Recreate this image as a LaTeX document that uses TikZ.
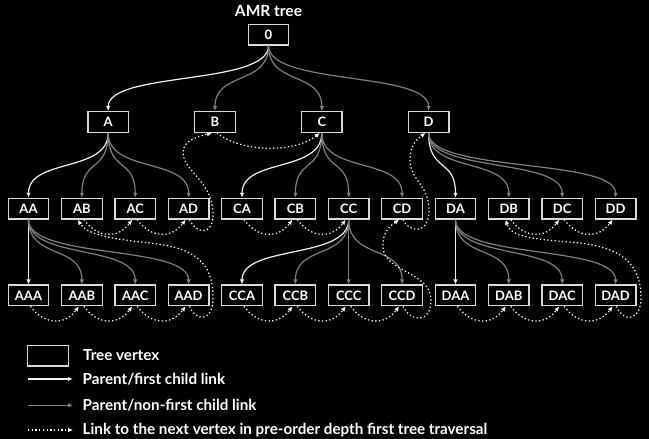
\documentclass[tikz,border=0pt]{standalone}
\usepackage{fontspec}
\setmainfont{Lato}
\usetikzlibrary{arrows.meta,calc}

\definecolor{firstlink}{HTML}{F2F2F2}
\definecolor{otherlink}{HTML}{7F7F7F}
\definecolor{boxline}{HTML}{D9D9D9}

\tikzset{
  vertex/.style={draw=boxline, line width=1.3pt, fill=black, text=white,
    minimum width=40.6pt, minimum height=20.6pt, inner sep=0pt,
    font=\fontsize{13}{13}\selectfont\bfseries},
  tip/.style={-{Latex[length=5pt,width=4.5pt]}},
  firstedge/.style={tip, draw=firstlink, line width=1.2pt},
  otheredge/.style={tip, draw=otherlink, line width=1.2pt},
  nextedge/.style={tip, draw=white, line width=1.2pt, dash pattern=on 1.3pt off 2.4pt},
  curved/.style={to path={.. controls ($(\tikztostart)+(0,#1)$) and ($(\tikztotarget)+(0,-#1)$) .. (\tikztotarget)}},
  curved/.default=40,
  sib/.style={to path={.. controls +(14,19) and +(-14,19) .. (\tikztotarget)}},
  legendtext/.style={anchor=west, text=white, inner sep=0pt,
    font=\fontsize{15.2}{15.2}\selectfont\bfseries},
}

\begin{document}
\begin{tikzpicture}[x=1pt, y=-1pt]
  \fill[black] (0,0) rectangle (649,439);
  \useasboundingbox (0,0) rectangle (649,439);

  % title
  \node[text=white, font=\fontsize{15.5}{15.5}\selectfont\bfseries] (title) at (268.5,10.5) {AMR tree};

  % root and first level
  \node[vertex] (R) at (268.5,34.8) {0};
  \node[vertex] (A) at (108.2,122) {A};
  \node[vertex] (B) at (215.0,122) {B};
  \node[vertex] (C) at (321.8,122) {C};
  \node[vertex] (D) at (428.6,122) {D};

  % second level
  \node[vertex] (AA) at (28.5,208.7)  {AA};
  \node[vertex] (AB) at (81.9,208.7)  {AB};
  \node[vertex] (AC) at (135.2,208.7) {AC};
  \node[vertex] (AD) at (188.6,208.7) {AD};
  \node[vertex] (CA) at (242.0,208.7) {CA};
  \node[vertex] (CB) at (295.4,208.7) {CB};
  \node[vertex] (CC) at (348.7,208.7) {CC};
  \node[vertex] (CD) at (402.1,208.7) {CD};
  \node[vertex] (DA) at (455.5,208.7) {DA};
  \node[vertex] (DB) at (508.8,208.7) {DB};
  \node[vertex] (DC) at (562.2,208.7) {DC};
  \node[vertex] (DD) at (615.6,208.7) {DD};

  % third level
  \node[vertex] (AAA) at (28.5,295.4)  {AAA};
  \node[vertex] (AAB) at (81.9,295.4)  {AAB};
  \node[vertex] (AAC) at (135.2,295.4) {AAC};
  \node[vertex] (AAD) at (188.6,295.4) {AAD};
  \node[vertex] (CCA) at (242.0,295.4) {CCA};
  \node[vertex] (CCB) at (295.4,295.4) {CCB};
  \node[vertex] (CCC) at (348.7,295.4) {CCC};
  \node[vertex] (CCD) at (402.1,295.4) {CCD};
  \node[vertex] (DAA) at (455.5,295.4) {DAA};
  \node[vertex] (DAB) at (508.8,295.4) {DAB};
  \node[vertex] (DAC) at (562.2,295.4) {DAC};
  \node[vertex] (DAD) at (615.6,295.4) {DAD};

  % parent / child links
  \draw[firstedge] (R.south) to[curved] (A.north);
  \foreach \c in {B,C,D} \draw[otheredge] (R.south) to[curved] (\c.north);
  \foreach \p in {A,C,D} {
    \draw[firstedge] (\p.south) to[curved] (\p A.north);
    \foreach \c in {B,C,D} \draw[otheredge] (\p.south) to[curved] (\p\c.north);
  }
  \foreach \p in {AA,CC,DA} {
    \draw[firstedge] (\p.south) to[curved] (\p A.north);
    \foreach \c in {B,C,D} \draw[otheredge] (\p.south) to[curved] (\p\c.north);
  }

  % pre-order traversal links between neighbouring siblings
  \foreach \s/\t in {AB/AC, AC/AD, CA/CB, CB/CC, DB/DC, DC/DD,
                     AAA/AAB, AAB/AAC, AAC/AAD, CCA/CCB, CCB/CCC, CCC/CCD,
                     DAA/DAB, DAB/DAC, DAC/DAD}
    \draw[nextedge] ([xshift=2pt]\s.south) to[sib] ([xshift=-3pt]\t.south);
  \draw[nextedge] ([xshift=2pt]B.south) .. controls +(25,20) and +(-25,20) .. ([xshift=-2pt]C.south);

  % traversal links climbing back up the tree
  \draw[nextedge] ([xshift=1pt]AD.south) .. controls (196,234) and (213,236) .. (213,215)
    .. controls (213,180) and (183,172) .. (183,152)
    .. controls (183,140) and (200,136) .. ([xshift=-3pt]B.south);
  \draw[nextedge] ([xshift=1pt]AAD.south) .. controls (196,322) and (213,322) .. (213,298)
    .. controls (213,262) and (195,248) .. (150,243)
    .. controls (110,239) and (86,234) .. ([xshift=-4pt]AB.south);
  \draw[nextedge] ([xshift=1pt]CCD.south) .. controls (410,322) and (431,324) .. (431,300)
    .. controls (431,272) and (385,272) .. (383,248)
    .. controls (382,232) and (390,226) .. ([xshift=-3pt]CD.south);
  \draw[nextedge] ([xshift=1pt]CD.south) .. controls (408,232) and (429,236) .. (429,210)
    .. controls (429,185) and (410,180) .. (410,160)
    .. controls (410,145) and (418,138) .. ([xshift=-3pt]D.south);
  \draw[nextedge] ([xshift=1pt]DAD.south) .. controls (622,322) and (641,322) .. (641,298)
    .. controls (641,262) and (620,246) .. (570,242)
    .. controls (530,239) and (510,236) .. ([xshift=-3pt]DB.south);

  % legend
  \node[vertex] (Lbox) at (48,355.7) {};
  \node[legendtext] (Lt1) at (83,355.5) {Tree vertex};
  \node[legendtext] (Lt2) at (82.5,379) {Parent/first child link};
  \node[legendtext] (Lt3) at (82.5,405.3) {Parent/non-first child link};
  \node[legendtext] (Lt4) at (82.5,430.5) {Link to the next vertex in pre-order depth first tree traversal};
  \coordinate (L2a) at (28,379);   \coordinate (L2b) at (73,379);
  \coordinate (L3a) at (28,405.3); \coordinate (L3b) at (73,405.3);
  \coordinate (L4a) at (28,430);   \coordinate (L4b) at (73,430);
  \draw[firstedge] (L2a) -- (L2b);
  \draw[otheredge] (L3a) -- (L3b);
  \draw[nextedge] (L4a) -- (L4b);
\end{tikzpicture}
\end{document}
